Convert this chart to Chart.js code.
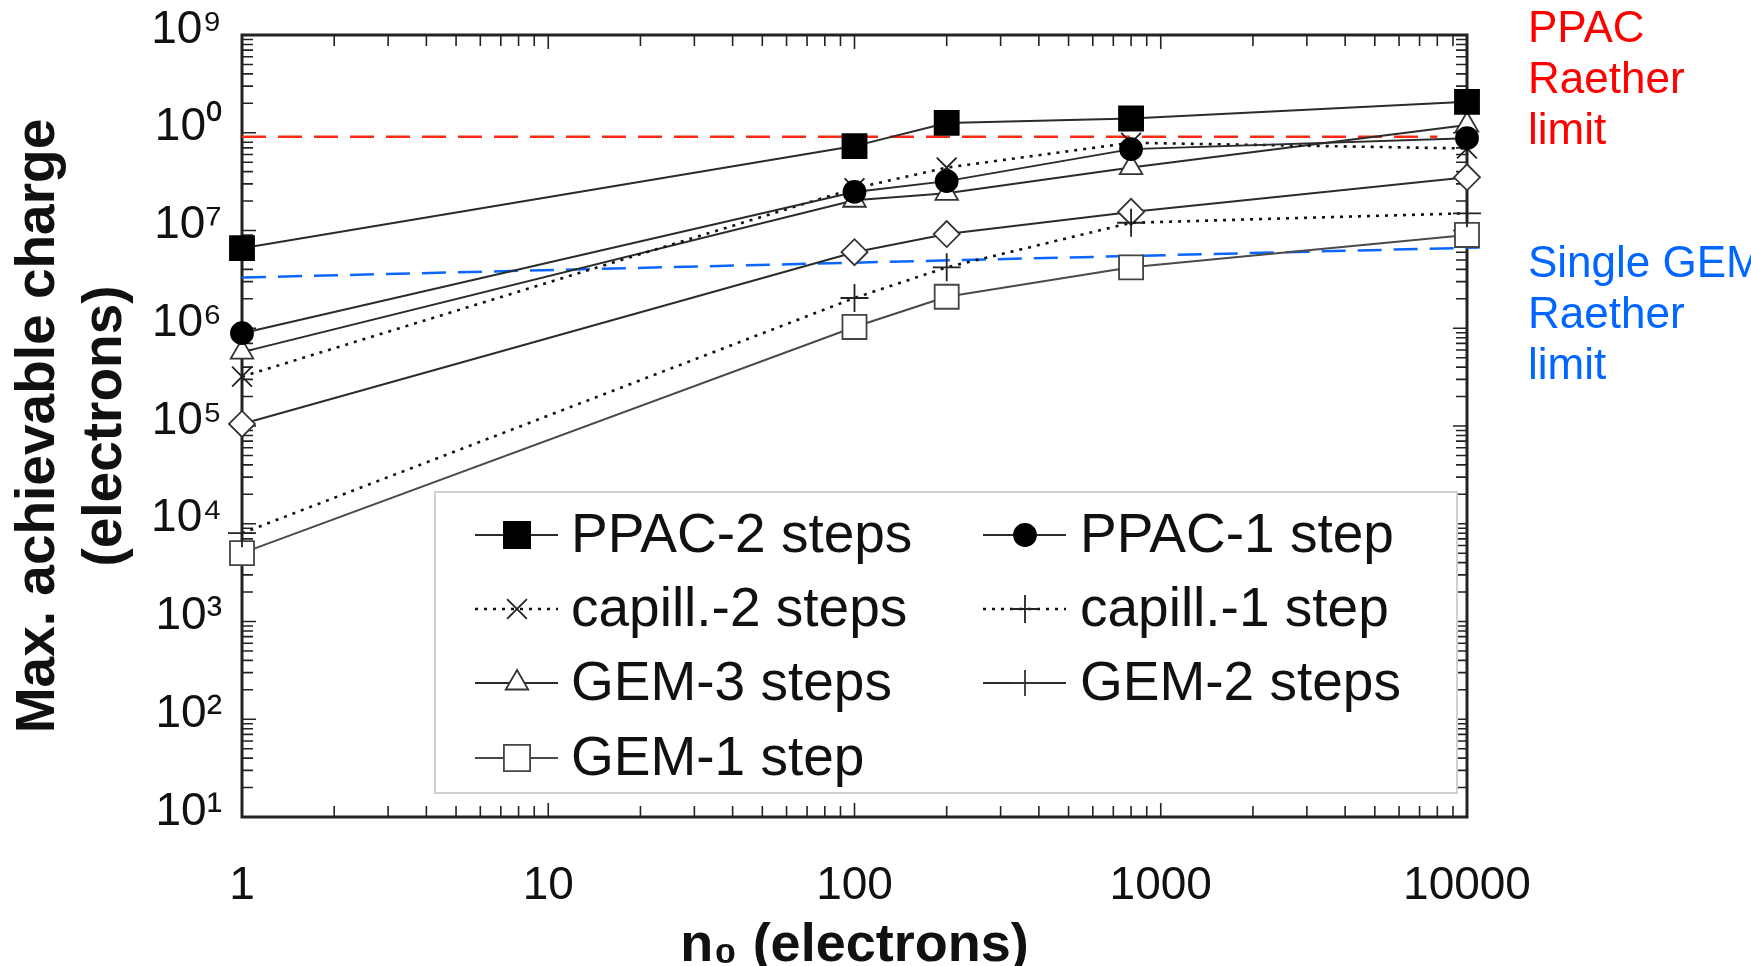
<!DOCTYPE html>
<html>
<head>
<meta charset="utf-8">
<script src="https://cdn.jsdelivr.net/npm/chart.js@4.4.1/dist/chart.umd.min.js"></script>
<style>
  html, body { margin: 0; padding: 0; background: #fff; overflow: hidden; }
  #wrap { width: 1751px; height: 966px; position: relative; }
</style>
</head>
<body>
<div id="wrap"><canvas id="chart" width="1751" height="966"></canvas></div>
<script>
    // n0 values where the runs were made
    var xValues = [1, 100, 200, 800, 10000];

    var seriesNames = ["PPAC-2 steps", "PPAC-1 step", "capill.-2 steps", "capill.-1 step",
                       "GEM-3 steps", "GEM-2 steps", "GEM-1 step"];

    // max achievable charge (electrons)
    var ppac2Steps   = [6.6e6, 7.3e7, 1.26e8, 1.4e8, 2.07e8];
    var ppac1Step    = [8.9e5, 2.48e7, 3.2e7, 6.8e7, 8.8e7];
    var capill2Steps = [3.2e5, 2.7e7, 4.4e7, 7.9e7, 6.9e7];
    var capill1Step  = [8.0e3, 2.04e6, 4.2e6, 1.2e7, 1.5e7];
    var gem3Steps    = [5.7e5, 2.04e7, 2.4e7, 4.4e7, 1.2e8];
    var gem2Steps    = [1.05e5, 6.0e6, 9.2e6, 1.55e7, 3.5e7];
    var gem1Step     = [5.0e3, 1.03e6, 2.1e6, 4.2e6, 9.0e6];

    // Raether limits (dashed lines)
    var ppacLimitX = [1, 8000];
    var ppacLimitY = [9.1e7, 9.1e7];
    var gemLimitX  = [1, 11000];
    var gemLimitY  = [3.3e6, 6.7e6];
    var ppacLimitText = ["PPAC", "Raether", "limit"];
    var gemLimitText  = ["Single GEM", "Raether", "limit"];

    // axis ticks
    var xDecades    = [1, 10, 100, 1000, 10000];
    var xTickLabels = ["1", "10", "100", "1000", "10000"];
    var yDecades    = [10, 100, 1e3, 1e4, 1e5, 1e6, 1e7, 1e8, 1e9];
    var yTickLabels = ["10\u00b9", "10\u00b2", "10\u00b3", "10\u2074", "10\u2075", "10\u2076", "10\u2077", "10\u2070", "10\u2079"];
    var minorSteps  = [1, 2, 3, 4, 5, 6, 7, 8, 9];

    var FONT = '"Liberation Sans", Arial, Helvetica, sans-serif';
    var LINE = "#2b2b2b";

    var toPoints = function (ys) {
        return xValues.map(function (x, i) { return {x: x, y: ys[i]}; });
    };
    var toLimit = function (xs, ys) {
        return xs.map(function (x, i) { return {x: x, y: ys[i]}; });
    };

    /* styles per series, in legend order */
    var seriesStyles = [
        {data: ppac2Steps,   pointStyle: "rect",     radius: 17, fill: "#000", stroke: "#000", dash: [],     width: 2,   color: LINE},
        {data: ppac1Step,    pointStyle: "circle",   radius: 11, fill: "#000", stroke: "#000", dash: [],     width: 2,   color: LINE},
        {data: capill2Steps, pointStyle: "crossRot", radius: 14, fill: "#fff", stroke: "#222", dash: [3, 6], width: 2.6, color: "#111"},
        {data: capill1Step,  pointStyle: "cross",    radius: 14, fill: "#fff", stroke: "#222", dash: [3, 6], width: 2.6, color: "#111"},
        {data: gem3Steps,    pointStyle: "triangle", radius: 13, fill: "#fff", stroke: "#333", dash: [],     width: 2,   color: LINE},
        {data: gem2Steps,    pointStyle: "rectRot",  radius: 13, fill: "#fff", stroke: "#333", dash: [],     width: 2,   color: LINE},
        {data: gem1Step,     pointStyle: "rect",     radius: 17, fill: "#fff", stroke: "#444", dash: [],     width: 2,   color: "#4a4a4a"}
    ];
    // legend glyph for GEM-2 is drawn as a plus in the original
    var legendStyles = ["rect", "circle", "crossRot", "cross", "triangle", "cross", "rect"];

    var datasets = seriesStyles.map(function (s, i) {
        return {
            label: seriesNames[i],
            data: toPoints(s.data),
            borderColor: s.color,
            borderWidth: s.width,
            borderDash: s.dash,
            pointStyle: s.pointStyle,
            pointRadius: s.radius,
            pointBackgroundColor: s.fill,
            pointBorderColor: s.stroke,
            pointBorderWidth: 1.8,
            tension: 0,
            clip: false
        };
    });
    datasets.push({
        label: "PPAC Raether limit", data: toLimit(ppacLimitX, ppacLimitY),
        borderColor: "#ff2a14", borderWidth: 2.5, borderDash: [24, 12], pointRadius: 0, clip: false
    });
    datasets.push({
        label: "Single GEM Raether limit", data: toLimit(gemLimitX, gemLimitY),
        borderColor: "#0a66ff", borderWidth: 2.5, borderDash: [24, 12], pointRadius: 0, clip: false
    });

    var logTicks = function (decades, max) {
        var out = [];
        decades.forEach(function (d) {
            minorSteps.forEach(function (m) {
                if (d * m <= max) out.push({value: d * m});
            });
        });
        return out;
    };

    /* inward ticks on all four sides plus the frame */
    var frameTicks = {
        id: "frameTicks",
        beforeDatasetsDraw: function (chart) {
            var ctx = chart.ctx, a = chart.chartArea;
            var xs = chart.scales.x, ys = chart.scales.y;
            ctx.save();
            ctx.strokeStyle = "#222";
            ctx.lineWidth = 1.6;
            ctx.beginPath();
            xs.ticks.forEach(function (t) {
                var px = xs.getPixelForValue(t.value);
                var len = xDecades.indexOf(t.value) >= 0 ? 14 : 11;
                ctx.moveTo(px, a.bottom); ctx.lineTo(px, a.bottom - len);
                ctx.moveTo(px, a.top); ctx.lineTo(px, a.top + len);
            });
            ys.ticks.forEach(function (t) {
                var py = ys.getPixelForValue(t.value);
                var len = yDecades.indexOf(t.value) >= 0 ? 14 : 11;
                ctx.moveTo(a.left, py); ctx.lineTo(a.left + len, py);
                ctx.moveTo(a.right, py); ctx.lineTo(a.right - len, py);
            });
            ctx.stroke();
            ctx.lineWidth = 3;
            ctx.strokeRect(a.left, a.top, a.right - a.left, a.bottom - a.top);
            ctx.restore();
        }
    };

    /* boxed two-column legend inside the plot */
    var boxLegend = {
        id: "boxLegend",
        afterDraw: function (chart) {
            var ctx = chart.ctx;
            var box = {left: 435, top: 492, right: 1457, bottom: 793};
            var cols = [{x0: 475, x1: 558, mark: 517, text: 571}, {x0: 983, x1: 1066, mark: 1025, text: 1080}];
            var rows = [535, 609, 683, 758];
            ctx.save();
            ctx.fillStyle = "#fff";
            ctx.fillRect(box.left, box.top, box.right - box.left, box.bottom - box.top);
            ctx.strokeStyle = "#d0d0d0";
            ctx.lineWidth = 2;
            ctx.strokeRect(box.left, box.top, box.right - box.left, box.bottom - box.top);
            seriesStyles.forEach(function (s, i) {
                var c = cols[i % 2], y = rows[Math.floor(i / 2)];
                ctx.strokeStyle = s.color;
                ctx.lineWidth = s.width;
                ctx.setLineDash(s.dash);
                ctx.beginPath();
                ctx.moveTo(c.x0, y); ctx.lineTo(c.x1, y);
                ctx.stroke();
                ctx.setLineDash([]);
                ctx.fillStyle = s.fill;
                ctx.strokeStyle = s.stroke;
                ctx.lineWidth = 1.8;
                var r = s.pointStyle === "rect" ? 18.5 : s.radius;
                Chart.helpers.drawPoint(ctx, {pointStyle: legendStyles[i], radius: r, rotation: 0, borderWidth: 1.8}, c.mark, y);
                ctx.fillStyle = "#111";
                ctx.font = "55px " + FONT;
                ctx.textBaseline = "middle";
                ctx.textAlign = "left";
                ctx.fillText(seriesNames[i], c.text, y + 2);
            });
            ctx.restore();
        }
    };

    /* red / blue captions at the right */
    var limitCaptions = {
        id: "limitCaptions",
        afterDraw: function (chart) {
            var ctx = chart.ctx;
            ctx.save();
            ctx.font = "44px " + FONT;
            ctx.textBaseline = "alphabetic";
            ctx.textAlign = "left";
            ctx.fillStyle = "#ff0000";
            ppacLimitText.forEach(function (t, i) { ctx.fillText(t, 1528, 42 + i * 51); });
            ctx.fillStyle = "#0066ff";
            gemLimitText.forEach(function (t, i) { ctx.fillText(t, 1528, 277 + i * 51); });
            ctx.restore();
        }
    };

    new Chart(document.getElementById("chart"), {
        type: "line",
        data: {datasets: datasets},
        plugins: [frameTicks, boxLegend, limitCaptions],
        options: {
            responsive: false,
            animation: false,
            layout: {padding: {left: 0, right: 284, top: 35, bottom: 0}},
            plugins: {legend: {display: false}, tooltip: {enabled: false}},
            scales: {
                x: {
                    type: "logarithmic",
                    min: 1,
                    max: 10000,
                    grid: {display: false, drawTicks: false},
                    border: {display: false},
                    afterBuildTicks: function (scale) { scale.ticks = logTicks(xDecades, 10000); },
                    afterFit: function (scale) { scale.height = 149; },
                    ticks: {
                        autoSkip: false,
                        maxRotation: 0,
                        padding: 42,
                        color: "#111",
                        font: {family: FONT, size: 46},
                        callback: function (v) {
                            var i = xDecades.indexOf(v);
                            return i >= 0 ? xTickLabels[i] : "";
                        }
                    },
                    title: {
                        display: true,
                        text: "n\u2080 (electrons)",
                        color: "#111",
                        font: {family: FONT, size: 54, weight: "bold", lineHeight: 0.75},
                        padding: {top: 0, bottom: 0}
                    }
                },
                y: {
                    type: "logarithmic",
                    min: 10,
                    max: 1e9,
                    grid: {display: false, drawTicks: false},
                    border: {display: false},
                    afterBuildTicks: function (scale) { scale.ticks = logTicks(yDecades, 1e9); },
                    afterFit: function (scale) {
                        scale.width = 242;
                        // keep the plot top at the layout padding
                        scale.paddingTop = 10;
                        scale.paddingBottom = 10;
                    },
                    ticks: {
                        autoSkip: false,
                        padding: 20,
                        labelOffset: -5,
                        color: "#111",
                        font: {family: FONT, size: 46},
                        callback: function (v) {
                            var i = yDecades.indexOf(v);
                            return i >= 0 ? yTickLabels[i] : "";
                        }
                    },
                    title: {
                        display: true,
                        text: ["Max. achievable charge", "(electrons)"],
                        color: "#111",
                        font: {family: FONT, size: 55, weight: "bold", lineHeight: 1.22},
                        padding: {top: 5, bottom: 0}
                    }
                }
            }
        }
    });
</script>
</body>
</html>
